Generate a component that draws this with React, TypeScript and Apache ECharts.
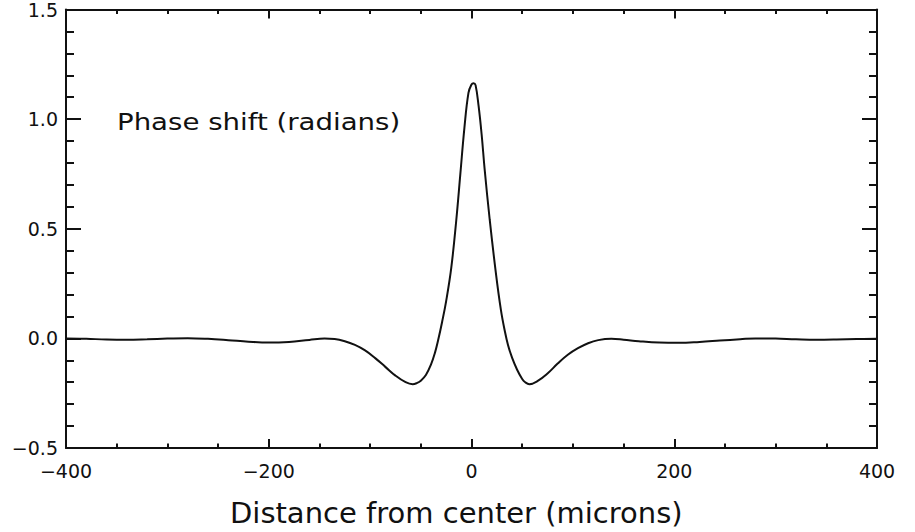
import React, { useEffect, useRef } from "react";
import * as echarts from "echarts";

const distance: number[] = [
  -400, -380, -360, -340, -320, -300, -280, -260, -240, -220, -200, -180, -160, -145, -135,
  -125, -115, -105, -95, -85, -75, -65, -58, -54, -50, -45, -40, -36, -33, -29, -25, -20, -15,
  -11, -7, -3, 0, 2, 4, 7, 10, 13, 18, 24, 29, 33, 36, 40, 45, 50, 53, 57, 65, 75, 85, 95,
  105, 115, 125, 138, 150, 165, 185, 205, 225, 245, 265, 280, 300, 320, 340, 360, 380, 400,
];

const phase: number[] = [
  0.0, -0.002, -0.005, -0.006, -0.004, -0.001, 0.001, -0.002, -0.008, -0.015, -0.019, -0.016,
  -0.007, -0.001, -0.003, -0.013, -0.03, -0.055, -0.09, -0.13, -0.17, -0.2, -0.209, -0.204,
  -0.193, -0.167, -0.12, -0.065, -0.01, 0.075, 0.17, 0.32, 0.54, 0.75, 0.96, 1.12, 1.158,
  1.164, 1.155, 1.06, 0.93, 0.77, 0.54, 0.3, 0.13, 0.03, -0.03, -0.088, -0.143, -0.185, -0.2,
  -0.209, -0.195, -0.16, -0.115, -0.075, -0.045, -0.022, -0.008, -0.002, -0.006, -0.013,
  -0.019, -0.02, -0.016, -0.01, -0.004, 0.0, -0.001, -0.004, -0.006, -0.005, -0.003, -0.002,
];

const xTicks: number[] = [-400, -200, 0, 200, 400];
const yTicks: number[] = [-0.5, 0.0, 0.5, 1.0, 1.5];

const annotation = "Phase shift (radians)";
const xTitle = "Distance from center (microns)";

const fmtNum = (v: number, digits: number) => v.toFixed(digits).replace("-", "\u2212");

export default function App() {
  const ref = useRef<HTMLDivElement>(null);

  useEffect(() => {
    if (!ref.current) return;
    const chart = echarts.init(ref.current, undefined, { renderer: "svg" });
    const axisLine = { show: true, onZero: false, lineStyle: { color: "#111", width: 2 } };
    const tickStyle = { color: "#111", width: 2 };
    const labelFont = { fontFamily: "DejaVu Sans", fontSize: 19, color: "#111" };

    const xBase = {
      type: "value" as const,
      min: xTicks[0],
      max: xTicks[xTicks.length - 1],
      interval: xTicks[1] - xTicks[0],
      splitLine: { show: false },
      axisLine,
      axisTick: { show: true, inside: true, length: 9, lineStyle: tickStyle },
      minorTick: { show: true, splitNumber: 4, length: 4.5, lineStyle: tickStyle },
    };
    const yBase = {
      type: "value" as const,
      min: yTicks[0],
      max: yTicks[yTicks.length - 1],
      interval: yTicks[1] - yTicks[0],
      splitLine: { show: false },
      axisLine,
      axisTick: { show: true, inside: true, length: 15, lineStyle: tickStyle },
      minorTick: { show: true, splitNumber: 5, length: 8, lineStyle: tickStyle },
    };

    chart.setOption({
      animation: false,
      backgroundColor: "#ffffff",
      grid: { left: 66, right: 38, top: 9, bottom: 84, containLabel: false },
      xAxis: [
        {
          ...xBase,
          position: "bottom",
          axisLabel: {
            ...labelFont,
            margin: 13,
            formatter: (v: number) => fmtNum(v, 0),
          },
        },
        { ...xBase, position: "top", axisLabel: { show: false } },
      ],
      yAxis: [
        {
          ...yBase,
          position: "left",
          axisLabel: {
            ...labelFont,
            margin: 8,
            formatter: (v: number) => fmtNum(v, 1),
          },
        },
        { ...yBase, position: "right", axisLabel: { show: false } },
      ],
      series: [
        {
          type: "line",
          xAxisIndex: 0,
          yAxisIndex: 0,
          data: distance.map((d, i) => [d, phase[i]]),
          showSymbol: false,
          smooth: 0.4,
          lineStyle: { color: "#111", width: 2 },
        },
      ],
      graphic: [
        {
          type: "text",
          x: 117,
          y: 121.5,
          scaleX: 1.2,
          style: {
            text: annotation,
            fontFamily: "DejaVu Sans",
            fontSize: 23,
            fill: "#111",
            textAlign: "left",
            textVerticalAlign: "middle",
          },
        },
        {
          type: "text",
          x: 230,
          y: 512.5,
          style: {
            text: xTitle,
            fontFamily: "DejaVu Sans",
            fontSize: 29,
            fill: "#111",
            textAlign: "left",
            textVerticalAlign: "middle",
          },
        },
      ],
    });
    return () => chart.dispose();
  }, []);

  return <div ref={ref} style={{ width: 915, height: 532, position: "absolute", left: 0, top: 0 }} />;
}
